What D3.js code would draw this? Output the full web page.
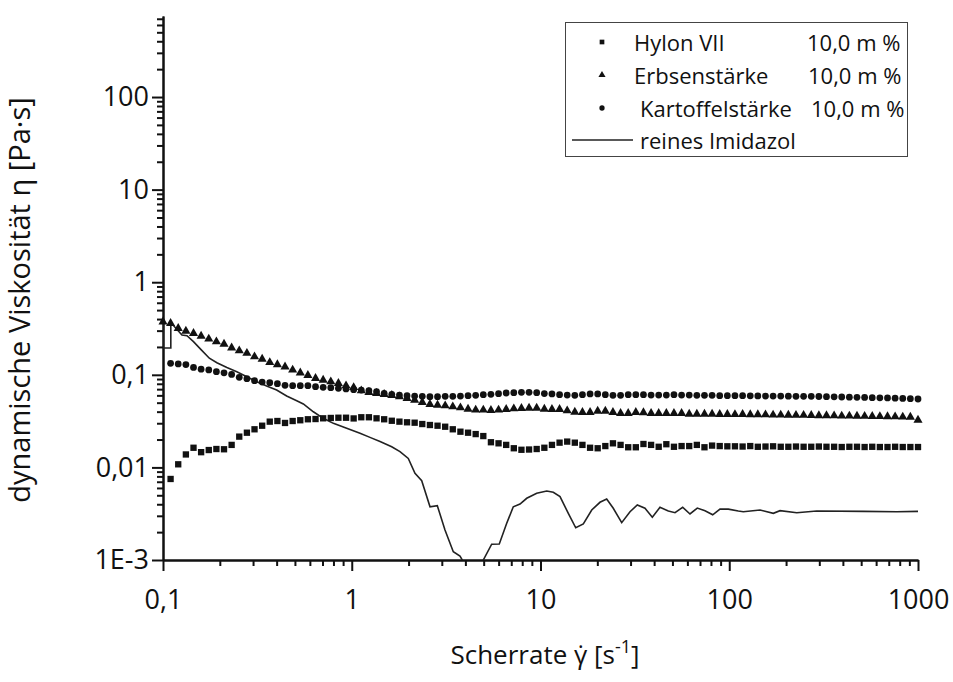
<!DOCTYPE html>
<html lang="de">
<head>
    <meta charset="utf-8">
    <title>Viskosität über Scherrate</title>
    <script src="https://cdn.jsdelivr.net/npm/d3@7"></script>
    <style type="text/css">
        body {
            margin: 0;
            background: white;
        }

        text {
            font-family: "Open Sans", sans-serif;
            fill: #111;
        }

        .axis path, .axis line {
            stroke: #111;
            stroke-width: 2px;
        }

        .axis text {
            font-size: 27px;
        }
    </style>
</head>
<body>
<script type="text/javascript">

    var w = 953;
    var h = 682;

    // shear rates of the measuring points [1/s]
    var rates = [
        0.1, 0.1097, 0.1204, 0.1322, 0.1451, 0.1592, 0.1748, 0.1918, 0.2105, 0.2310,
        0.2535, 0.2783, 0.3054, 0.3352, 0.3678, 0.4037, 0.4431, 0.4863, 0.5337, 0.5857,
        0.6428, 0.7055, 0.7743, 0.8497, 0.9326, 1.0235, 1.1233, 1.2328, 1.353, 1.485,
        1.630, 1.789, 1.963, 2.154, 2.364, 2.595, 2.848, 3.126, 3.430, 3.765,
        4.132, 4.535, 4.977, 5.462, 5.995, 6.579, 7.221, 7.925, 8.697, 9.545,
        10.48, 11.50, 12.62, 13.85, 15.20, 16.68, 18.31, 20.09, 22.05, 24.20,
        26.56, 29.15, 31.99, 35.11, 38.54, 42.29, 46.42, 50.94, 55.91, 61.36,
        67.34, 73.91, 81.11, 89.02, 97.70, 107.2, 117.7, 129.2, 141.7, 155.6,
        170.7, 187.4, 205.6, 225.7, 247.7, 271.9, 298.4, 327.4, 359.4, 394.4,
        432.9, 475.1, 521.4, 572.2, 628.0, 689.3, 756.4, 830.2, 911.1, 1000
    ];

    // dynamic viscosity [Pa*s]
    var hylon = [
        null, 0.0075, 0.0108, 0.0138, 0.0163, 0.0146, 0.0154, 0.0158, 0.0157, 0.0175,
        0.0215, 0.0237, 0.0258, 0.0282, 0.0312, 0.0317, 0.0302, 0.0317, 0.0323, 0.0331,
        0.0333, 0.0339, 0.0342, 0.0344, 0.0344, 0.0338, 0.0348, 0.0348, 0.0339, 0.0331,
        0.0319, 0.0312, 0.0307, 0.0304, 0.0294, 0.0287, 0.0282, 0.0275, 0.0258, 0.0243,
        0.0237, 0.0229, 0.0218, 0.0187, 0.0182, 0.0175, 0.0161, 0.0155, 0.0156, 0.0158,
        0.0163, 0.0175, 0.0185, 0.0190, 0.0185, 0.0175, 0.0163, 0.0161, 0.0170, 0.0182,
        0.0175, 0.0165, 0.0165, 0.0179, 0.0175, 0.0167, 0.0178, 0.0167, 0.0170, 0.0170,
        0.0175, 0.0165, 0.0172, 0.0170, 0.0169, 0.0169, 0.0168, 0.0170, 0.0167, 0.0168,
        0.0169, 0.0167, 0.0167, 0.0168, 0.0167, 0.0167, 0.0168, 0.0167, 0.0167, 0.0166,
        0.0167, 0.0167, 0.0166, 0.0167, 0.0166, 0.0166, 0.0167, 0.0166, 0.0166, 0.0166
    ];

    var erbsen = [
        0.374, 0.360, 0.318, 0.297, 0.281, 0.262, 0.244, 0.228, 0.215, 0.196,
        0.182, 0.171, 0.157, 0.148, 0.136, 0.129, 0.122, 0.113, 0.105, 0.0988,
        0.0916, 0.0879, 0.0842, 0.0809, 0.0763, 0.0730, 0.0673, 0.0647, 0.0631, 0.0616,
        0.0601, 0.0580, 0.0557, 0.0534, 0.0505, 0.0480, 0.0472, 0.0464, 0.0453, 0.0441,
        0.0427, 0.0417, 0.0417, 0.0414, 0.0417, 0.0424, 0.0431, 0.0435, 0.0438, 0.0438,
        0.0427, 0.0424, 0.0424, 0.0410, 0.0396, 0.0394, 0.0394, 0.0406, 0.0406, 0.0394,
        0.0384, 0.0384, 0.0394, 0.0391, 0.0384, 0.0384, 0.0384, 0.0384, 0.0384, 0.0377,
        0.0377, 0.0377, 0.0377, 0.0375, 0.0375, 0.0373, 0.0374, 0.0372, 0.0372, 0.0371,
        0.0369, 0.0369, 0.0368, 0.0366, 0.0366, 0.0365, 0.0363, 0.0363, 0.0362, 0.0360,
        0.0360, 0.0359, 0.0357, 0.0356, 0.0355, 0.0354, 0.0353, 0.0351, 0.0350, 0.0325
    ];

    var kartoffel = [
        null, 0.133, 0.131, 0.129, 0.120, 0.115, 0.113, 0.108, 0.105, 0.101,
        0.0940, 0.0908, 0.0864, 0.0836, 0.0822, 0.0802, 0.0770, 0.0763, 0.0763, 0.0763,
        0.0744, 0.0733, 0.0727, 0.0715, 0.0703, 0.0691, 0.0685, 0.0673, 0.0657, 0.0631,
        0.0616, 0.0605, 0.0595, 0.0590, 0.0586, 0.0580, 0.0580, 0.0586, 0.0586, 0.0590,
        0.0595, 0.0601, 0.0610, 0.0616, 0.0625, 0.0636, 0.0641, 0.0647, 0.0647, 0.0641,
        0.0627, 0.0621, 0.0610, 0.0605, 0.0601, 0.0610, 0.0621, 0.0621, 0.0610, 0.0601,
        0.0601, 0.0610, 0.0610, 0.0610, 0.0605, 0.0605, 0.0605, 0.0610, 0.0605, 0.0605,
        0.0601, 0.0601, 0.0601, 0.0595, 0.0595, 0.0595, 0.0595, 0.0593, 0.0592, 0.0590,
        0.0590, 0.0589, 0.0588, 0.0586, 0.0586, 0.0585, 0.0583, 0.0580, 0.0578, 0.0576,
        0.0574, 0.0572, 0.0570, 0.0567, 0.0565, 0.0562, 0.0559, 0.0556, 0.0553, 0.0548
    ];

    // pure imidazole, drawn as a line
    var imiRates = [
        0.1, 0.1, 0.110, 0.110, 0.113, 0.126, 0.134, 0.145, 0.160, 0.176,
        0.193, 0.218, 0.246, 0.278, 0.314, 0.354, 0.400, 0.452, 0.511, 0.554,
        0.626, 0.707, 0.799, 0.940, 1.106, 1.249, 1.412, 1.628, 1.801, 1.993,
        2.163, 2.348, 2.598, 2.840, 3.119, 3.451, 3.745, 3.852, 4.336, 4.977,
        5.512, 6.048, 6.622, 7.176, 7.788, 8.454, 9.548, 10.79, 11.69, 12.69,
        14.04, 15.37, 16.86, 18.68, 20.66, 22.42, 24.30, 26.93, 29.80, 32.57,
        35.78, 39.12, 42.96, 47.55, 51.60, 56.66, 61.95, 67.71, 74.38, 81.73,
        89.33, 98.86, 111.7, 118.7, 145.6, 171.2, 185.8, 227.8, 290.6, 513.2,
        771.1, 1000
    ];
    var imiVisc = [
        0.372, 0.195, 0.195, 0.372, 0.345, 0.269, 0.264, 0.228, 0.185, 0.151,
        0.135, 0.120, 0.108, 0.0954, 0.0842, 0.0757, 0.0685, 0.0590, 0.0525, 0.0484,
        0.0399, 0.0339, 0.0299, 0.0264, 0.0234, 0.0211, 0.0190, 0.0167, 0.0148, 0.0125,
        0.00864, 0.00718, 0.00376, 0.00386, 0.00211, 0.00123, 0.00110, 0.00100, 0.0004, 0.00100,
        0.00148, 0.00149, 0.00249, 0.00376, 0.00402, 0.00464, 0.00525, 0.00555, 0.00538, 0.00483,
        0.00319, 0.00223, 0.00245, 0.00347, 0.00420, 0.00456, 0.00362, 0.00253, 0.00332, 0.00393,
        0.00362, 0.00289, 0.00371, 0.00338, 0.00324, 0.00371, 0.00314, 0.00364, 0.00341, 0.00308,
        0.00355, 0.00354, 0.00338, 0.00332, 0.00347, 0.00319, 0.00341, 0.00324, 0.00338, 0.00335,
        0.00332, 0.00335
    ];

    var xMajor = [0.1, 1, 10, 100, 1000];
    var xMajorLabels = ["0,1", "1", "10", "100", "1000"];
    var yMajor = [0.001, 0.01, 0.1, 1, 10, 100];
    var yMajorLabels = ["1E-3", "0,01", "0,1", "1", "10", "100"];

    var legendNames = ["Hylon VII", "Erbsenstärke", "Kartoffelstärke", "reines Imidazol"];
    var legendConc = ["10,0 m %", "10,0 m %", "10,0 m %", ""];

    var plotLeft = 163, plotRight = 918, plotTop = 16, plotBottom = 560;

    var xScale = d3.scaleLog()
        .domain([0.1, 1000])
        .range([plotLeft, plotRight]);

    var yScale = d3.scaleLog()
        .domain([0.001, 750])
        .range([plotBottom, plotTop]);

    // minor ticks 2..9 of every decade inside the domain
    function minorTicks(scale) {
        var d = scale.domain();
        return scale.ticks(40).filter(function (v) {
            var m = v / Math.pow(10, Math.floor(Math.log10(v) + 1e-9));
            return Math.abs(m - 1) > 1e-6 && v <= d[1] * 1.0001;
        });
    }

    //Create SVG element
    var svg = d3.select("body")
        .append("svg")
        .attr("width", w)
        .attr("height", h);

    // x axis
    svg.append("g")
        .attr("class", "axis")
        .attr("transform", "translate(0," + plotBottom + ")")
        .call(d3.axisBottom(xScale)
            .tickValues(minorTicks(xScale))
            .tickSize(6)
            .tickSizeOuter(0)
            .tickFormat(""));

    svg.append("g")
        .attr("class", "axis")
        .attr("transform", "translate(0," + plotBottom + ")")
        .call(d3.axisBottom(xScale)
            .tickValues(xMajor)
            .tickSize(11)
            .tickSizeOuter(0)
            .tickPadding(19)
            .tickFormat(function (d, i) { return xMajorLabels[i]; }));

    // y axis
    svg.append("g")
        .attr("class", "axis")
        .attr("transform", "translate(" + plotLeft + ",0)")
        .call(d3.axisLeft(yScale)
            .tickValues(minorTicks(yScale))
            .tickSize(6)
            .tickSizeOuter(0)
            .tickFormat(""));

    svg.append("g")
        .attr("class", "axis")
        .attr("transform", "translate(" + plotLeft + ",0)")
        .call(d3.axisLeft(yScale)
            .tickValues(yMajor)
            .tickSize(11)
            .tickSizeOuter(0)
            .tickPadding(3)
            .tickFormat(function (d, i) { return yMajorLabels[i]; }));

    // axis titles
    svg.append("text")
        .attr("transform", "translate(22," + ((plotTop + plotBottom) / 2 + 12) + ") rotate(-90)")
        .attr("text-anchor", "middle")
        .attr("dominant-baseline", "middle")
        .style("font-size", "29px")
        .text("dynamische Viskosität η [Pa·s]");

    var xt = svg.append("text")
        .attr("x", 545)
        .attr("y", 664)
        .attr("text-anchor", "middle")
        .style("font-size", "26px");
    xt.append("tspan").text("Scherrate γ\u0307 [s");
    xt.append("tspan").attr("dy", -11).style("font-size", "18px").text("-1");
    xt.append("tspan").attr("dy", 11).text("]");

    // clip for the line that runs below the axis
    svg.append("clipPath")
        .attr("id", "plotclip")
        .append("rect")
        .attr("x", plotLeft)
        .attr("y", 0)
        .attr("width", plotRight - plotLeft + 2)
        .attr("height", plotBottom);

    var imiData = imiRates.map(function (r, i) { return {x: r, y: imiVisc[i]}; });

    svg.append("path")
        .datum(imiData)
        .attr("clip-path", "url(#plotclip)")
        .attr("fill", "none")
        .attr("stroke", "#222")
        .attr("stroke-width", 1.6)
        .attr("d", d3.line()
            .x(function (d) { return xScale(d.x); })
            .y(function (d) { return yScale(d.y); }));

    // markers
    var series = [
        {values: hylon, symbol: d3.symbolSquare, size: 40},
        {values: erbsen, symbol: d3.symbolTriangle, size: 36},
        {values: kartoffel, symbol: d3.symbolCircle, size: 36}
    ];

    series.forEach(function (s) {
        var pts = rates.map(function (r, i) { return {x: r, y: s.values[i]}; })
            .filter(function (d) { return d.y != null; });
        svg.append("g")
            .selectAll("path")
            .data(pts)
            .enter()
            .append("path")
            .attr("fill", "#111")
            .attr("transform", function (d) {
                return "translate(" + xScale(d.x) + "," + yScale(d.y) + ")";
            })
            .attr("d", d3.symbol().type(s.symbol).size(s.size));
    });

    // legend
    var lg = svg.append("g");
    lg.append("rect")
        .attr("x", 565.5)
        .attr("y", 22.5)
        .attr("width", 342)
        .attr("height", 134)
        .attr("fill", "white")
        .attr("stroke", "#444")
        .attr("stroke-width", 1);

    var rowY = [42, 75, 108, 140];
    var nameX = [634, 634, 640, 640];
    var concX = [807, 808, 811, 0];
    var legendSymbols = [d3.symbolSquare, d3.symbolTriangle, d3.symbolCircle];

    legendNames.forEach(function (name, i) {
        if (i < 3) {
            lg.append("path")
                .attr("transform", "translate(602," + rowY[i] + ")")
                .attr("fill", "#111")
                .attr("d", d3.symbol().type(legendSymbols[i]).size(22));
        } else {
            lg.append("line")
                .attr("x1", 572).attr("x2", 633)
                .attr("y1", rowY[i]).attr("y2", rowY[i])
                .attr("stroke", "#222")
                .attr("stroke-width", 1.6);
        }
        lg.append("text")
            .attr("x", nameX[i])
            .attr("y", rowY[i])
            .attr("dominant-baseline", "central")
            .style("font-size", "22px")
            .text(name);
        if (legendConc[i]) {
            lg.append("text")
                .attr("x", concX[i])
                .attr("y", rowY[i])
                .attr("dominant-baseline", "central")
                .style("font-size", "22px")
                .text(legendConc[i]);
        }
    });

</script>
</body>
</html>
